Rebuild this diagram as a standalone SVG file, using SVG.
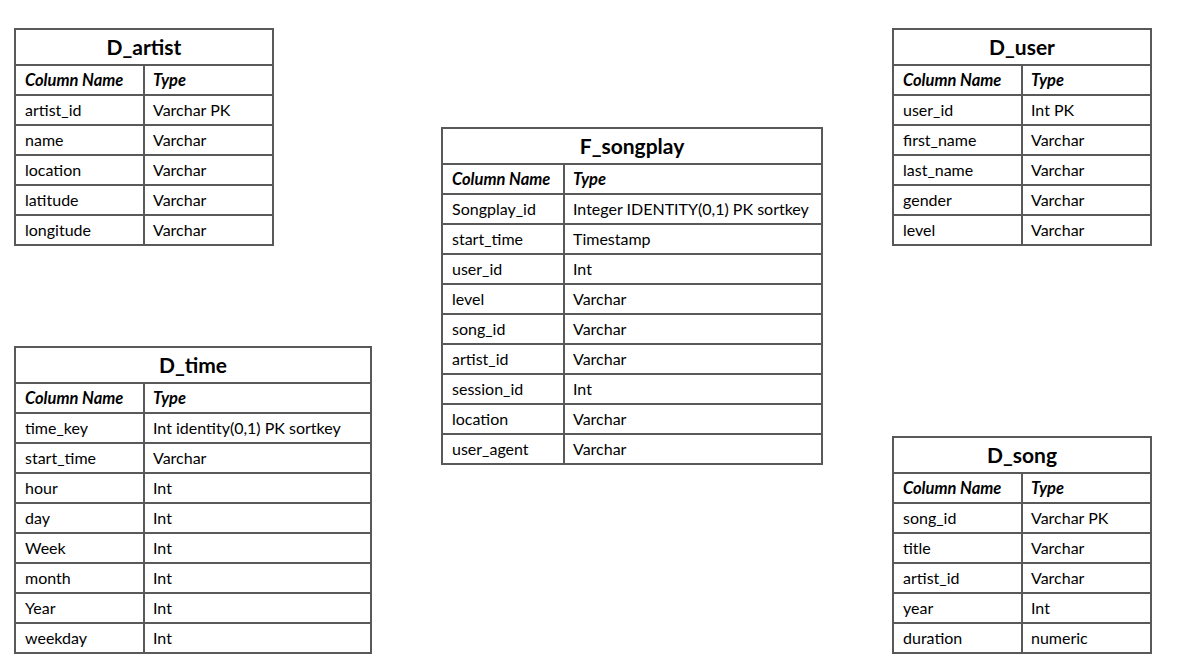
<svg xmlns="http://www.w3.org/2000/svg" width="1181" height="668" viewBox="0 0 1181 668">
<style>
.frame{fill:#ffffff;stroke:#595959;stroke-width:2}
.ln{stroke:#595959;stroke-width:2}
text{font-family:"Lato","Liberation Sans",sans-serif;fill:#000000}
.ttl{font-size:21px;font-weight:bold;text-anchor:middle}
.hd{font-size:16.5px;font-weight:bold;font-style:italic}
.t{font-size:16px}
</style>
<rect width="1181" height="668" fill="#ffffff"/>
<g id="connectors"></g>

<g id="D_artist">
<rect class="frame" x="15" y="29" width="258" height="216"/>
<path class="ln" d="M15 65H273M15 95H273M15 125H273M15 155H273M15 185H273M15 215H273M144 65V245"/>
<text class="ttl" x="144" y="55">D_artist</text>
<text class="hd" x="25" y="86">Column Name</text><text class="hd" x="153" y="86">Type</text>
<text class="t" x="25" y="116">artist_id</text><text class="t" x="153" y="116">Varchar PK</text>
<text class="t" x="25" y="146">name</text><text class="t" x="153" y="146">Varchar</text>
<text class="t" x="25" y="176">location</text><text class="t" x="153" y="176">Varchar</text>
<text class="t" x="25" y="206">latitude</text><text class="t" x="153" y="206">Varchar</text>
<text class="t" x="25" y="236">longitude</text><text class="t" x="153" y="236">Varchar</text>
</g>

<g id="D_user">
<rect class="frame" x="893" y="29" width="258" height="216"/>
<path class="ln" d="M893 65H1151M893 95H1151M893 125H1151M893 155H1151M893 185H1151M893 215H1151M1022 65V245"/>
<text class="ttl" x="1022" y="55">D_user</text>
<text class="hd" x="903" y="86">Column Name</text><text class="hd" x="1031" y="86">Type</text>
<text class="t" x="903" y="116">user_id</text><text class="t" x="1031" y="116">Int PK</text>
<text class="t" x="903" y="146">first_name</text><text class="t" x="1031" y="146">Varchar</text>
<text class="t" x="903" y="176">last_name</text><text class="t" x="1031" y="176">Varchar</text>
<text class="t" x="903" y="206">gender</text><text class="t" x="1031" y="206">Varchar</text>
<text class="t" x="903" y="236">level</text><text class="t" x="1031" y="236">Varchar</text>
</g>

<g id="F_songplay">
<rect class="frame" x="442" y="128" width="380" height="336"/>
<path class="ln" d="M442 164H822M442 194H822M442 224H822M442 254H822M442 284H822M442 314H822M442 344H822M442 374H822M442 404H822M442 434H822M564 164V464"/>
<text class="ttl" x="632" y="154">F_songplay</text>
<text class="hd" x="452" y="185">Column Name</text><text class="hd" x="573" y="185">Type</text>
<text class="t" x="452" y="215">Songplay_id</text><text class="t" x="573" y="215">Integer IDENTITY(0,1) PK sortkey</text>
<text class="t" x="452" y="245">start_time</text><text class="t" x="573" y="245">Timestamp</text>
<text class="t" x="452" y="275">user_id</text><text class="t" x="573" y="275">Int</text>
<text class="t" x="452" y="305">level</text><text class="t" x="573" y="305">Varchar</text>
<text class="t" x="452" y="335">song_id</text><text class="t" x="573" y="335">Varchar</text>
<text class="t" x="452" y="365">artist_id</text><text class="t" x="573" y="365">Varchar</text>
<text class="t" x="452" y="395">session_id</text><text class="t" x="573" y="395">Int</text>
<text class="t" x="452" y="425">location</text><text class="t" x="573" y="425">Varchar</text>
<text class="t" x="452" y="455">user_agent</text><text class="t" x="573" y="455">Varchar</text>
</g>

<g id="D_time">
<rect class="frame" x="15" y="347" width="356" height="306"/>
<path class="ln" d="M15 383H371M15 413H371M15 443H371M15 473H371M15 503H371M15 533H371M15 563H371M15 593H371M15 623H371M144 383V653"/>
<text class="ttl" x="193" y="373">D_time</text>
<text class="hd" x="25" y="404">Column Name</text><text class="hd" x="153" y="404">Type</text>
<text class="t" x="25" y="434">time_key</text><text class="t" x="153" y="434">Int identity(0,1) PK sortkey</text>
<text class="t" x="25" y="464">start_time</text><text class="t" x="153" y="464">Varchar</text>
<text class="t" x="25" y="494">hour</text><text class="t" x="153" y="494">Int</text>
<text class="t" x="25" y="524">day</text><text class="t" x="153" y="524">Int</text>
<text class="t" x="25" y="554">Week</text><text class="t" x="153" y="554">Int</text>
<text class="t" x="25" y="584">month</text><text class="t" x="153" y="584">Int</text>
<text class="t" x="25" y="614">Year</text><text class="t" x="153" y="614">Int</text>
<text class="t" x="25" y="644">weekday</text><text class="t" x="153" y="644">Int</text>
</g>

<g id="D_song">
<rect class="frame" x="893" y="437" width="258" height="216"/>
<path class="ln" d="M893 473H1151M893 503H1151M893 533H1151M893 563H1151M893 593H1151M893 623H1151M1022 473V653"/>
<text class="ttl" x="1022" y="463">D_song</text>
<text class="hd" x="903" y="494">Column Name</text><text class="hd" x="1031" y="494">Type</text>
<text class="t" x="903" y="524">song_id</text><text class="t" x="1031" y="524">Varchar PK</text>
<text class="t" x="903" y="554">title</text><text class="t" x="1031" y="554">Varchar</text>
<text class="t" x="903" y="584">artist_id</text><text class="t" x="1031" y="584">Varchar</text>
<text class="t" x="903" y="614">year</text><text class="t" x="1031" y="614">Int</text>
<text class="t" x="903" y="644">duration</text><text class="t" x="1031" y="644">numeric</text>
</g>
</svg>
